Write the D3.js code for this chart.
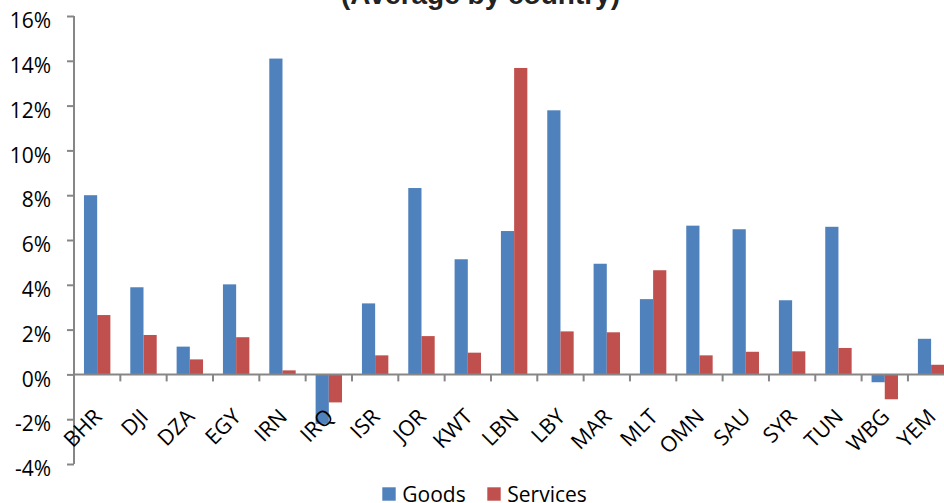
<!DOCTYPE html>
<html>
    <head>
        <title>Goods and services by country</title>
        <script src="https://d3js.org/d3.v7.min.js"></script>
        <style>
            body { margin: 0; background: #fff; }
            text { font-family: "Open Sans", sans-serif; }
        </style>
    </head>
    <body>
        <div id="chart"></div>
        <script>
            //  data (percent)
            const countries = ["BHR", "DJI", "DZA", "EGY", "IRN", "IRQ", "ISR", "JOR", "KWT", "LBN",
                               "LBY", "MAR", "MLT", "OMN", "SAU", "SYR", "TUN", "WBG", "YEM"];
            const goods = [8.0, 3.89, 1.24, 4.02, 14.1, -2.21, 3.17, 8.32, 5.14, 6.4,
                           11.79, 4.94, 3.36, 6.64, 6.48, 3.31, 6.59, -0.35, 1.59];
            const services = [2.65, 1.76, 0.67, 1.66, 0.18, -1.25, 0.85, 1.71, 0.97, 13.68,
                              1.92, 1.88, 4.65, 0.85, 1.01, 1.03, 1.18, -1.11, 0.43];
            const seriesNames = ["Goods", "Services"];
            const yTicks = [-4, -2, 0, 2, 4, 6, 8, 10, 12, 14, 16];
            const title = "(Average by country)";

            //  chart dimensions
            const width = 944;
            const height = 503;
            const colors = ["#4F81BD", "#C0504D"];
            const axisColor = "#868686";

            // plot area runs past the right edge, like the cropped original
            const step = 46.33;
            const x0 = d3.scaleBand()
                .domain(countries)
                .range([74, 74 + step * countries.length])
                .paddingInner(0.43)
                .paddingOuter(0.215);
            const x1 = d3.scaleBand()
                .domain(seriesNames)
                .range([0, x0.bandwidth()]);
            const y = d3.scaleLinear()
                .domain([-4, 16])
                .range([464, 16]);

            const rows = countries.map((c, i) => ({country: c, values: [goods[i], services[i]]}));

            const svg = d3.select("#chart").append("svg")
                .attr("width", width)
                .attr("height", height)
                .style("display", "block")
                .style("overflow", "hidden");

            //  title (first line is above the visible area)
            svg.append("text")
                .attr("x", 480.5)
                .attr("y", 4)
                .attr("text-anchor", "middle")
                .attr("fill", "#222")
                .style("font-family", "'Liberation Sans', Arial, sans-serif")
                .style("font-weight", "bold")
                .style("font-size", "28px")
                .text(title);

            //  bars
            svg.append("g")
                .selectAll("g")
                .data(rows)
                .join("g")
                    .attr("transform", d => `translate(${x0(d.country)},0)`)
                .selectAll("rect")
                .data(d => d.values.map((v, j) => ({name: seriesNames[j], value: v, j: j})))
                .join("rect")
                    .attr("x", d => x1(d.name))
                    .attr("width", x1.bandwidth())
                    .attr("y", d => y(Math.max(0, d.value)))
                    .attr("height", d => Math.abs(y(d.value) - y(0)))
                    .attr("fill", d => colors[d.j]);

            //  y axis
            const yAxis = svg.append("g")
                .attr("transform", "translate(74,0)")
                .call(d3.axisLeft(y).tickValues(yTicks).tickSize(7).tickFormat(d => d + "%"));
            yAxis.select(".domain").attr("stroke", axisColor).attr("stroke-width", 2)
                .attr("d", `M0,${y(16)}V${y(-4)}`);
            yAxis.selectAll(".tick line").attr("stroke", axisColor).attr("stroke-width", 2);
            yAxis.selectAll(".tick text")
                .attr("x", -23)
                .attr("dy", "0.72em")
                .attr("y", -3.5)
                .attr("fill", "#000")
                .style("font-family", "'Open Sans', sans-serif")
                .style("font-size", "21px");

            //  x axis at zero
            const xg = svg.append("g");
            xg.append("line")
                .attr("x1", 74)
                .attr("x2", x0.range()[1])
                .attr("y1", y(0))
                .attr("y2", y(0))
                .attr("stroke", axisColor)
                .attr("stroke-width", 2);
            xg.selectAll(".xtick")
                .data(countries)
                .join("line")
                    .attr("class", "xtick")
                    .attr("x1", d => x0(d) - x0.step() * x0.paddingOuter() + x0.step())
                    .attr("x2", d => x0(d) - x0.step() * x0.paddingOuter() + x0.step())
                    .attr("y1", y(0))
                    .attr("y2", y(0) + 7)
                    .attr("stroke", axisColor)
                    .attr("stroke-width", 2);
            xg.selectAll(".xlabel")
                .data(countries)
                .join("text")
                    .attr("class", "xlabel")
                    .attr("text-anchor", "end")
                    .attr("transform", d => `translate(${x0(d) + x0.bandwidth() / 2 + 6},418) rotate(-45)`)
                    .attr("fill", "#000")
                    .style("font-size", "21.5px")
                    .text(d => d);

            //  legend
            const legendX = [382.3, 487.3];
            const legend = svg.append("g")
                .selectAll("g")
                .data(seriesNames)
                .join("g")
                    .attr("transform", (d, i) => `translate(${legendX[i]},487.3)`);
            legend.append("rect")
                .attr("width", 13.4)
                .attr("height", 13.4)
                .attr("fill", (d, i) => colors[i]);
            legend.append("text")
                .attr("x", 20)
                .attr("y", 15)
                .attr("fill", "#000")
                .style("font-size", "21px")
                .text(d => d);
        </script>
    </body>
</html>
